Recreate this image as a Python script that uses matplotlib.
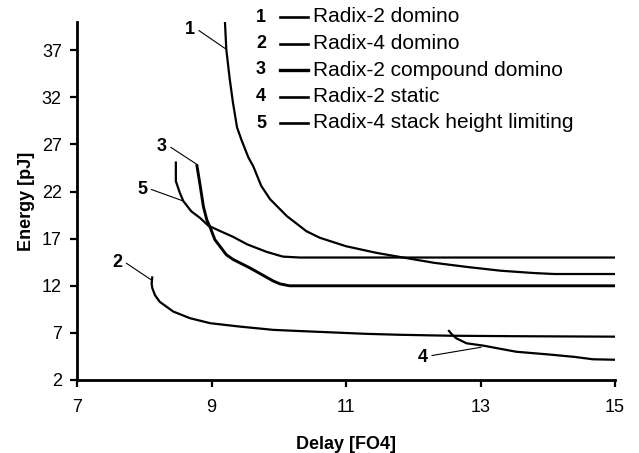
import matplotlib
matplotlib.use("Agg")
import matplotlib.pyplot as plt
from matplotlib.lines import Line2D

plt.rcParams['font.family'] = ['Liberation Sans', 'DejaVu Sans']

# series (delay in FO4, energy in pJ)
names = ["Radix-2 domino", "Radix-4 domino", "Radix-2 compound domino",
         "Radix-2 static", "Radix-4 stack height limiting"]

r2_dom_x = [9.20, 9.22, 9.27, 9.32, 9.38, 9.45, 9.55, 9.62, 9.74, 9.87, 10.12, 10.41,
            10.61, 11.00, 11.45, 11.85, 12.30, 12.80, 13.30, 13.80, 14.10, 15.0]
r2_dom_y = [40.0, 37.1, 34.0, 31.4, 28.8, 27.4, 25.6, 24.7, 22.6, 21.2, 19.4, 17.8,
            17.1, 16.2, 15.5, 15.0, 14.45, 14.0, 13.6, 13.35, 13.25, 13.25]

r4_dom_x = [8.12, 8.11, 8.12, 8.16, 8.23, 8.43, 8.68, 8.98, 9.42, 9.92,
            10.30, 10.80, 11.30, 11.80, 12.54, 13.50, 15.0]
r4_dom_y = [13.0, 12.2, 11.75, 11.0, 10.3, 9.27, 8.56, 8.03, 7.67, 7.32,
            7.2, 7.05, 6.9, 6.8, 6.7, 6.65, 6.6]

r2_cmp_x = [8.78, 8.83, 8.88, 8.93, 8.98, 9.05, 9.22, 9.32, 9.57, 9.72, 9.92, 10.02, 10.16, 15.0]
r2_cmp_y = [24.9, 22.7, 20.4, 19.0, 18.2, 16.9, 15.3, 14.8, 13.9, 13.3, 12.5, 12.2, 12.0, 12.0]

r2_sta_x = [12.52, 12.58, 12.64, 12.79, 13.04, 13.53, 14.03, 14.40, 14.67, 15.0]
r2_sta_y = [7.3, 6.8, 6.43, 5.9, 5.65, 5.0, 4.7, 4.45, 4.2, 4.15]

r4_shl_x = [8.47, 8.47, 8.53, 8.58, 8.70, 8.83, 8.95, 9.10, 9.32, 9.53, 9.82, 10.06, 10.31, 15.0]
r4_shl_y = [25.2, 23.1, 21.85, 21.0, 19.9, 19.2, 18.4, 17.9, 17.2, 16.4, 15.6, 15.1, 15.0, 15.0]

xs = [r2_dom_x, r4_dom_x, r2_cmp_x, r2_sta_x, r4_shl_x]
ys = [r2_dom_y, r4_dom_y, r2_cmp_y, r2_sta_y, r4_shl_y]
widths = [1.6, 1.6, 2.1, 1.6, 1.6]

# label number -> (text position, point on curve)
callouts = {
    "1": ((8.68, 39.2), (9.22, 37.1)),
    "2": ((7.60, 14.5), (8.11, 12.6)),
    "3": ((8.26, 26.8), (8.78, 24.9)),
    "4": ((12.14, 4.34), (13.01, 5.48)),
    "5": ((7.97, 22.2), (8.58, 21.0)),
}

fig = plt.figure(figsize=(6.39, 4.53), dpi=100)
fig.subplots_adjust(left=77 / 639, right=615 / 639, bottom=73 / 453, top=431 / 453)
ax = fig.add_subplot(111)

for x, y, lw in zip(xs, ys, widths):
    ax.plot(x, y, color='black', lw=lw, solid_capstyle='butt')

for num, (txt, pt) in callouts.items():
    ax.annotate(num, xy=pt, xytext=txt, ha='center', va='center',
                fontsize=13, fontweight='bold',
                arrowprops=dict(arrowstyle='-', color='black', lw=0.8,
                                shrinkA=1, shrinkB=0, relpos=(1, 0.6)))

ax.set_xlim(7, 15)
ax.set_ylim(2, 40)
ax.set_xticks([7, 9, 11, 13, 15])
ax.set_yticks([2, 7, 12, 17, 22, 27, 32, 37])
ax.tick_params(direction='out', length=5, width=1.6, labelsize=13, pad=6)
ax.tick_params(axis='x', pad=9)
for side in ['top', 'right']:
    ax.spines[side].set_visible(False)
for side in ['left', 'bottom']:
    ax.spines[side].set_linewidth(2)

ax.set_xlabel("Delay [FO4]", fontsize=13, fontweight='bold', labelpad=14)
ax.set_ylabel("Energy [pJ]", fontsize=13, fontweight='bold', labelpad=5)

# hand-made legend: bold number, short line, name
row0, step = 17, 26.5
for i, name in enumerate(names):
    yy = 1 - (row0 + i * step) / 453
    fig.text(261 / 639, yy, str(i + 1), ha='center', va='center',
             fontsize=13, fontweight='bold')
    fig.add_artist(Line2D([280 / 639, 308 / 639], [yy, yy], color='black',
                          lw=widths[i] + 0.3, transform=fig.transFigure))
    fig.text(313 / 639, yy, name, ha='left', va='center', fontsize=15)

fig.savefig("out.png", dpi=100)
